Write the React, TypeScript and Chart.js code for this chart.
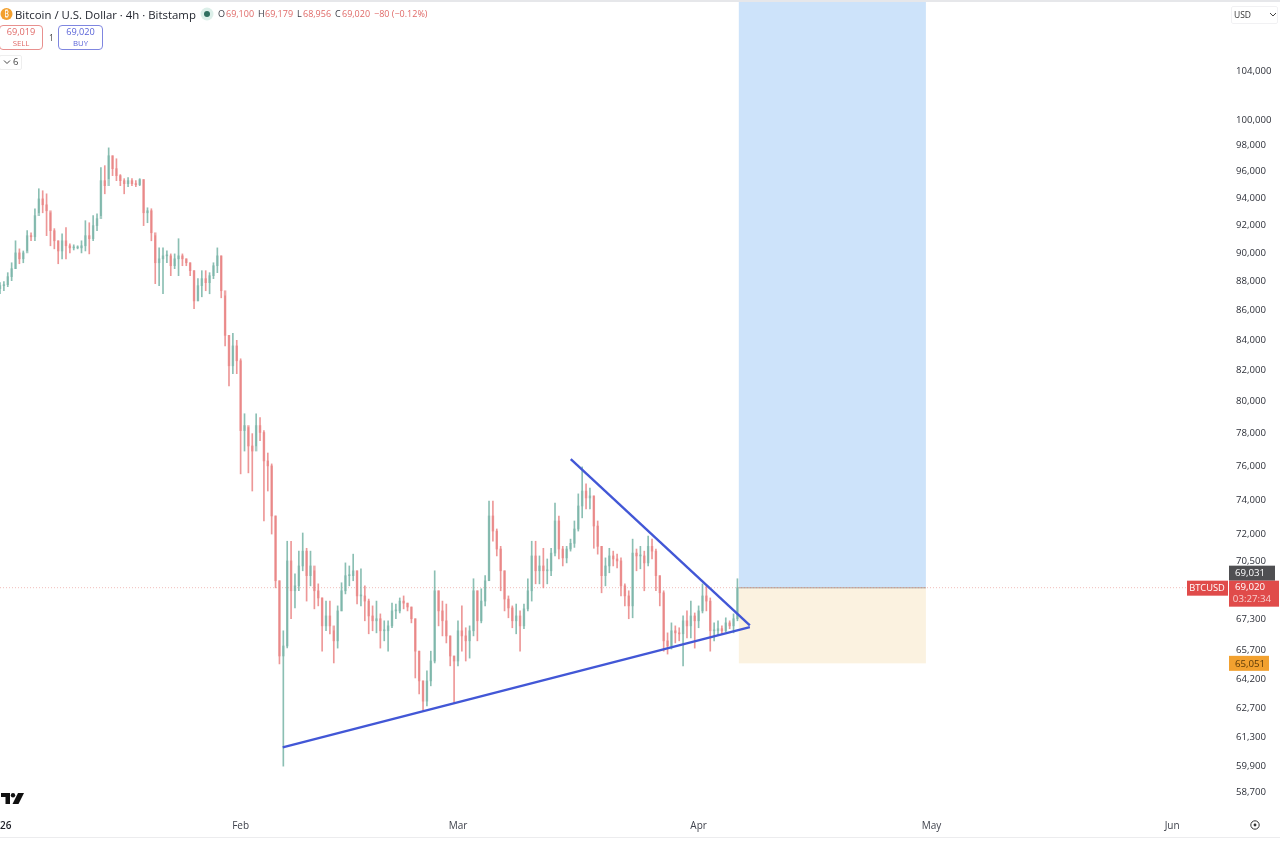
import React, { useEffect, useRef } from "react";
import { Chart, registerables } from "chart.js";

Chart.register(...registerables);

// Candles at half-day steps (days counted from 1 Jan 2026)
const highs = [87910,87980,88610,89310,90880,90300,90150,91610,91460,93220,94710,94560,94330,92920,91760,90880,91390,91830,90660,90590,90520,90880,92340,92190,92710,92850,96310,96460,97830,97220,96990,95780,95470,95550,95470,95320,95470,95400,93290,93220,91250,90370,90370,90150,89940,89940,91030,89940,89590,89310,88750,88190,88750,88750,88610,89310,90370,89800,86990,84310,84450,83980,82760,79230,78370,77990,79230,78990,78180,76800,76140,73060,69400,66700,71610,71610,69780,71050,72080,71210,71050,69950,69230,68460,68290,68290,66700,68030,69290,70390,70220,70880,69950,70060,69120,68400,68030,68290,67600,67230,67230,68180,68130,68460,68570,68180,67970,67340,65630,64100,64610,65630,69950,68850,68290,68130,66430,65380,67230,68030,66860,66960,69510,68850,68960,69680,73930,73930,72310,71320,69950,68570,68030,68130,67760,68130,69510,71610,71610,70780,71210,70610,71210,73810,73060,71320,71320,71730,72770,74350,75960,74940,74700,74230,72770,71320,70670,71210,71050,70880,70670,69230,68850,71730,71170,71320,71050,71900,71730,71170,69680,68850,66590,67120,66960,66860,67490,67760,68290,67650,68030,69230,69120,68460,67120,67230,66960,67390,67230,67600,69510];
const lows = [87140,87350,87630,88050,88890,89240,89310,90150,90880,90880,92920,92920,91250,90520,90300,89240,89590,89590,90010,90220,90300,90010,90150,89940,90880,91610,92710,94330,95470,95700,95320,94940,94330,94860,94940,94860,94940,91980,92190,90880,87840,87700,87140,89310,88400,88890,88400,89100,89100,88400,86110,86650,86930,87350,87140,88190,88610,86860,83610,81000,81790,81790,75540,76920,75600,74520,77230,77560,72770,74520,72020,69010,64970,59910,65800,67340,67920,68850,69950,68290,69120,67870,68030,65630,66700,66540,65020,65790,67760,68680,69120,69400,68130,68030,67230,66540,66700,66590,65790,66170,65630,66860,67340,67650,67870,67760,67120,64250,63440,62590,62840,63850,65020,66960,66430,66060,64870,62980,64870,65630,65120,65270,66430,66170,67120,68030,69400,71610,70780,68850,67760,67390,66860,66540,65630,66810,67760,68290,69230,69230,69010,69230,69680,70780,70610,70220,70390,71050,71260,72190,72950,73470,73470,71210,70880,68740,69120,69840,70220,70110,68570,68030,67340,67390,69950,70060,68850,70220,70610,68850,68030,65630,65480,65740,66060,66170,64870,66330,66330,65790,66860,67650,67760,65630,66170,66490,66540,66650,66810,66590,67230];
const closes = [87700,87770,88330,88890,90010,89590,90010,91250,91170,92710,93950,93510,93070,91610,90880,90150,90880,90520,90370,90370,90370,90520,91250,91030,91980,92490,95320,94940,97220,96230,95700,95320,95090,95320,95090,95020,95400,92920,93070,91460,89310,89590,89800,89800,89100,89590,89800,89590,89310,88750,86650,87700,88190,87910,88400,89100,89800,87350,84310,82300,83610,82630,78180,78490,77230,76920,78490,78060,76320,76020,73060,69400,65380,65900,70500,68850,69120,70220,71050,69680,70220,68850,68460,66960,67490,66960,66170,67760,68850,69680,69680,69950,68570,68570,68290,67490,67230,67340,66700,66700,66960,67760,67760,68290,68180,67970,67340,65630,64100,63080,64100,65120,68850,67760,67230,66430,65380,65120,66700,66430,66170,66700,68850,67230,68290,69400,73060,72190,71170,69950,68400,67920,67230,67490,66960,67870,68850,70780,69950,70220,69950,69950,70940,72770,71170,70670,71170,71490,72310,73640,74520,74110,74230,72480,71320,69680,70220,70780,70610,70500,69120,68570,68030,70940,70780,70780,70390,71320,71050,69680,68740,66170,65900,66700,66590,66540,67230,66960,67490,67230,67760,68570,68290,66700,66700,66810,66700,67120,66960,67340,69020];
const firstOpen = 87500;
const candleStepDays = 0.5;

const priceTicks = [104000,100000,98000,96000,94000,92000,90000,88000,86000,84000,82000,80000,78000,76000,74000,72000,70500,67300,65700,64200,62700,61300,59900,58700];
const monthDays = [0, 31, 59, 90, 120, 151];
const monthLabels = ["2026", "Feb", "Mar", "Apr", "May", "Jun"];

const supportLine = [{ x: 36.42, y: 60810 }, { x: 96.6, y: 66890 }];
const resistanceLine = [{ x: 73.53, y: 76430 }, { x: 96.6, y: 66990 }];
const lastPrice = 69020;
const stopPrice = 65051;
const positionStartDay = 95.18;
const positionEndDay = 119.28;

const FONT = '"Open Sans", "Noto Sans", sans-serif';
const RED = "#e06a68";

function Abs(p: any) {
  const { x, y, w, h, s, color, weight, align, border, bg, radius, children } = p;
  return (
    <div
      style={{
        position: "absolute",
        left: x,
        top: y,
        width: w,
        height: h,
        lineHeight: h ? `${h}px` : undefined,
        fontSize: s,
        color,
        fontWeight: weight,
        textAlign: align,
        border,
        background: bg,
        borderRadius: radius,
        whiteSpace: "nowrap",
        boxSizing: "border-box",
        fontFamily: FONT,
      }}
    >
      {children}
    </div>
  );
}

export default function App() {
  const ref = useRef<HTMLCanvasElement>(null);
  useEffect(() => {
    const days = closes.map((_, i) => i * candleStepDays);
    const opens = closes.map((_, i) => (i === 0 ? firstOpen : closes[i - 1]));
    const up = closes.map((c, i) => c >= opens[i]);
    const colorOf = (ctx: any, g: string, r: string) => (up[ctx.dataIndex] ? g : r);

    const overlay = {
      id: "overlay",
      beforeDatasetsDraw(chart: any) {
        const { ctx, scales, chartArea } = chart;
        const x = scales.x, y = scales.y;
        const x0 = x.getPixelForValue(positionStartDay);
        const x1 = x.getPixelForValue(positionEndDay);
        const yE = y.getPixelForValue(lastPrice);
        const yS = y.getPixelForValue(stopPrice);
        ctx.save();
        ctx.fillStyle = "#cde3fa";
        ctx.fillRect(x0, chartArea.top, x1 - x0, yE - chartArea.top);
        ctx.fillStyle = "#fbf2e0";
        ctx.fillRect(x0, yE, x1 - x0, yS - yE + 1);
        ctx.fillStyle = "#b5aca6";
        ctx.fillRect(x0, yE - 0.5, x1 - x0, 1.2);
        ctx.restore();
      },
      afterDraw(chart: any) {
        const { ctx, scales } = chart;
        const y = scales.y;
        const yP = y.getPixelForValue(lastPrice);
        const yS = y.getPixelForValue(stopPrice);
        const box = (l: number, t: number, w: number, h: number, c: string) => {
          ctx.fillStyle = c;
          ctx.fillRect(l, t, w, h);
        };
        const txt = (t: string, cx: number, cy: number, c: string, s = 9.7) => {
          ctx.fillStyle = c;
          ctx.font = `${s}px ${FONT}`;
          ctx.textAlign = "center";
          ctx.textBaseline = "middle";
          ctx.fillText(t, cx, cy);
        };
        ctx.save();
        box(1229, yP - 22, 46, 15, "#4f4f52");
        txt("69,031", 1250, yP - 14, "#ffffff");
        box(1229, yP - 7, 50, 26, "#e04b4a");
        txt("69,020", 1250, yP, "#ffffff");
        txt("03:27:34", 1252, yP + 12, "#f7cfce");
        box(1187, yP - 7, 41, 15, "#e04b4a");
        txt("BTCUSD", 1207, yP + 1, "#ffffff", 9.3);
        box(1229, yS - 6.5, 40, 15, "#f2a12f");
        txt("65,051", 1250, yS + 1.5, "#5b3a08");
        ctx.restore();
      },
    };

    const chart = new Chart(ref.current as HTMLCanvasElement, {
      type: "bar",
      plugins: [overlay],
      data: {
        datasets: [
          {
            type: "line",
            data: resistanceLine,
            borderColor: "#4257d6",
            borderWidth: 2.4,
            pointRadius: 0,
            order: 0,
          },
          {
            type: "line",
            data: supportLine,
            borderColor: "#4257d6",
            borderWidth: 2.4,
            pointRadius: 0,
            order: 0,
          },
          {
            data: closes.map((c, i) => ({ x: days[i], y: [opens[i], c] })),
            barThickness: 1.8,
            minBarLength: 1,
            grouped: false,
            borderWidth: 0,
            backgroundColor: (ctx: any) => colorOf(ctx, "rgba(120,178,166,0.65)", "rgba(232,130,130,0.7)"),
            order: 1,
          },
          {
            data: closes.map((_, i) => ({ x: days[i], y: [lows[i], highs[i]] })),
            barThickness: 1,
            grouped: false,
            borderWidth: 0,
            backgroundColor: (ctx: any) => colorOf(ctx, "rgba(110,175,160,0.8)", "rgba(232,125,125,0.8)"),
            order: 2,
          },
          {
            type: "line",
            data: [{ x: 0, y: lastPrice }, { x: 153, y: lastPrice }],
            borderColor: "rgba(224,110,105,0.45)",
            borderWidth: 1,
            borderDash: [1, 2],
            pointRadius: 0,
            order: 3,
          },
        ] as any,
      },
      options: {
        responsive: false,
        animation: false,
        layout: { padding: { top: 2, left: 0, right: 0, bottom: 0 } },
        plugins: { legend: { display: false }, tooltip: { enabled: false }, title: { display: false } },
        scales: {
          x: {
            type: "linear",
            min: 0,
            max: 158.2,
            offset: false,
            grid: { display: false, drawTicks: false },
            border: { display: false },
            afterBuildTicks: (a: any) => {
              a.ticks = monthDays.map((value) => ({ value }));
            },
            afterFit: (a: any) => {
              a.height = 29;
              a.paddingLeft = 0;
              a.paddingRight = 0;
            },
            ticks: {
              autoSkip: false,
              maxRotation: 0,
              padding: 8,
              color: (ctx: any) => (ctx.index === 0 ? "#1c1e26" : "#3f424c"),
              font: (ctx: any) => ({ family: FONT, size: 10, weight: ctx.index === 0 ? "600" : "400" }),
              callback: (v: any) => monthLabels[monthDays.indexOf(Number(v))] ?? "",
            },
          },
          y: {
            type: "logarithmic",
            position: "right",
            min: 57770,
            max: 109830,
            grid: { display: false, drawTicks: false },
            border: { display: false },
            afterBuildTicks: (a: any) => {
              a.ticks = priceTicks.map((value) => ({ value }));
            },
            afterFit: (a: any) => {
              a.width = 52;
              a.paddingTop = 0;
              a.paddingBottom = 0;
            },
            ticks: {
              autoSkip: false,
              padding: 8,
              color: "#2c2f38",
              font: { family: FONT, size: 9.6 },
              callback: (v: any) => Number(v).toLocaleString("en-US"),
            },
          },
        },
      } as any,
    });
    return () => chart.destroy();
  }, []);

  return (
    <div style={{ position: "absolute", left: 0, top: 0, width: 1280, height: 841, overflow: "hidden", background: "#fff" }}>
      <canvas ref={ref} width={1280} height={841} style={{ display: "block", position: "absolute", left: 0, top: 0, filter: "blur(0.35px)" }} />
      <Abs x={0} y={0} w={1280} h={2} bg="#e6e7ea" />
      <Abs x={0} y={837} w={1280} h={1} bg="#ececee" />

      <svg style={{ position: "absolute", left: 0, top: 7 }} width="14" height="14">
        <circle cx="6.5" cy="7" r="6" fill="#f3a02e" />
        <text x="6.5" y="10" fontSize="8" fill="#fff" textAnchor="middle" fontFamily={FONT}>₿</text>
      </svg>
      <Abs x={15} y={6} h={17} s={11.4} color="#23262f">Bitcoin / U.S. Dollar · 4h · Bitstamp</Abs>
      <svg style={{ position: "absolute", left: 200, top: 7 }} width="14" height="14">
        <circle cx="7" cy="7" r="6.5" fill="#dcefe9" />
        <circle cx="7" cy="7" r="3" fill="#2f6f5f" />
      </svg>
      <Abs x={218} y={6} h={16} s={9} color="#3a3d46">O</Abs>
      <Abs x={226} y={6} h={16} s={9} color={RED}>69,100</Abs>
      <Abs x={258} y={6} h={16} s={9} color="#3a3d46">H</Abs>
      <Abs x={265} y={6} h={16} s={9} color={RED}>69,179</Abs>
      <Abs x={297} y={6} h={16} s={9} color="#3a3d46">L</Abs>
      <Abs x={303} y={6} h={16} s={9} color={RED}>68,956</Abs>
      <Abs x={335} y={6} h={16} s={9} color="#3a3d46">C</Abs>
      <Abs x={342} y={6} h={16} s={9} color={RED}>69,020</Abs>
      <Abs x={374} y={6} h={16} s={9} color={RED}>−80 (−0.12%)</Abs>

      <Abs x={-1} y={25} w={44} h={25} border="1px solid #e8908e" radius={4} />
      <Abs x={-1} y={25} w={44} h={13} s={9.2} color={RED} align="center">69,019</Abs>
      <Abs x={-1} y={37} w={44} h={12} s={7.8} color={RED} align="center">SELL</Abs>
      <Abs x={49} y={31} h={14} s={8.5} color="#444">1</Abs>
      <Abs x={58} y={25} w={45} h={25} border="1px solid #7f86e0" radius={4} />
      <Abs x={58} y={25} w={45} h={13} s={9.2} color="#5a64d8" align="center">69,020</Abs>
      <Abs x={58} y={37} w={45} h={12} s={7.8} color="#5a64d8" align="center">BUY</Abs>

      <Abs x={-1} y={55} w={23} h={15} border="1px solid #eeeeee" radius={2} />
      <svg style={{ position: "absolute", left: 3, top: 59 }} width="8" height="6">
        <path d="M1 1.5 L4 4.5 L7 1.5" stroke="#444" fill="none" strokeWidth="1" />
      </svg>
      <Abs x={13} y={55} h={14} s={9.5} color="#444">6</Abs>

      <Abs x={1231} y={6} w={47} h={18} border="1px solid #f1f1f3" radius={2} />
      <Abs x={1234} y={6} h={18} s={8.5} color="#333">USD</Abs>
      <svg style={{ position: "absolute", left: 1269, top: 12 }} width="8" height="6">
        <path d="M1 1 L4 4 L7 1" stroke="#444" fill="none" strokeWidth="1" />
      </svg>

      <svg style={{ position: "absolute", left: 1, top: 793 }} width="24" height="12" viewBox="0 0 24 12">
        <path d="M0 0 H9 V11 H4.5 V4 H0 Z" fill="#111" />
        <circle cx="12" cy="2.2" r="2.2" fill="#111" />
        <path d="M17 0 H23 L17.5 11 H11.5 Z" fill="#111" />
      </svg>

      <svg style={{ position: "absolute", left: 1249, top: 819 }} width="12" height="12">
        <circle cx="6" cy="6" r="4.2" stroke="#333" fill="none" strokeWidth="1" />
        <circle cx="6" cy="6" r="1.4" fill="#333" />
      </svg>
    </div>
  );
}
